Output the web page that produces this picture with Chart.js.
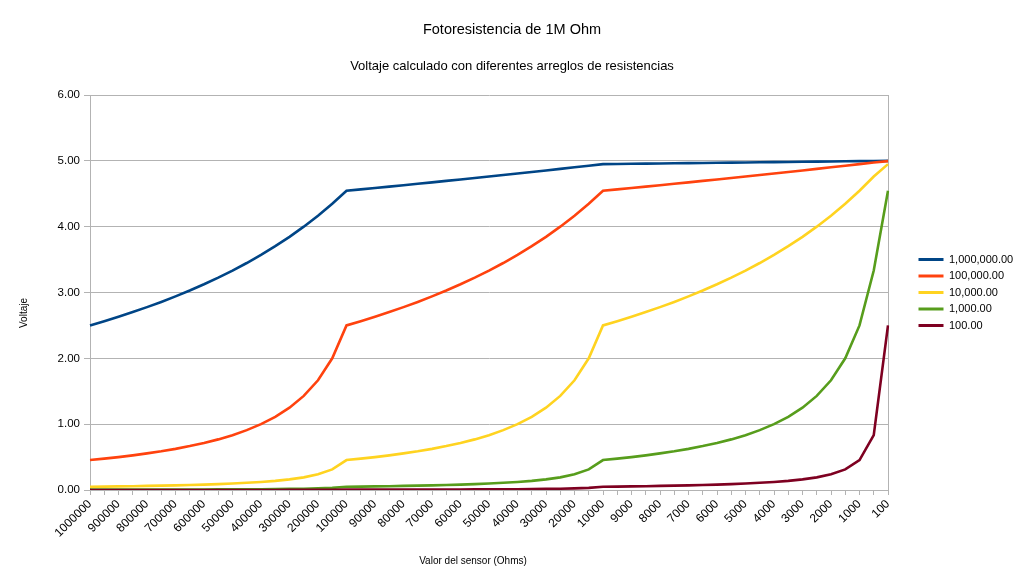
<!DOCTYPE html>
<html>
<head>
<meta charset="utf-8">
<script src="https://cdn.jsdelivr.net/npm/chart.js@4.4.1/dist/chart.umd.min.js"></script>
<style>
  html, body { margin: 0; padding: 0; background: #ffffff; }
  #wrap { width: 1024px; height: 585px; }
</style>
</head>
<body>
<div id="wrap"><canvas id="c" width="1024" height="585"></canvas></div>
<script>
// Sensor resistance (Ohms), category axis
const categories = ['1000000','950000','900000','850000','800000','750000','700000','650000','600000','550000',
  '500000','450000','400000','350000','300000','250000','200000','150000','100000',
  '95000','90000','85000','80000','75000','70000','65000','60000','55000','50000','45000','40000',
  '35000','30000','25000','20000','15000','10000',
  '9500','9000','8500','8000','7500','7000','6500','6000','5500','5000','4500','4000',
  '3500','3000','2500','2000','1500','1000','500','100'];

const seriesNames = ['1,000,000.00', '100,000.00', '10,000.00', '1,000.00', '100.00'];

const v1M = [2.500,2.564,2.632,2.703,2.778,2.857,2.941,3.030,3.125,3.226,3.333,3.448,3.571,3.704,3.846,4.000,4.167,4.348,4.545,
  4.566,4.587,4.608,4.630,4.651,4.673,4.695,4.717,4.739,4.762,4.785,4.808,4.831,4.854,4.878,4.902,4.926,4.950,
  4.953,4.955,4.958,4.960,4.963,4.965,4.968,4.970,4.973,4.975,4.978,4.980,4.983,4.985,4.988,4.990,4.993,4.995,
  4.998,5.000];
const v100k = [0.455,0.476,0.500,0.526,0.556,0.588,0.625,0.667,0.714,0.769,0.833,0.909,1.000,1.111,1.250,1.429,1.667,2.000,2.500,
  2.564,2.632,2.703,2.778,2.857,2.941,3.030,3.125,3.226,3.333,3.448,3.571,3.704,3.846,4.000,4.167,4.348,4.545,
  4.566,4.587,4.608,4.630,4.651,4.673,4.695,4.717,4.739,4.762,4.785,4.808,4.831,4.854,4.878,4.902,4.926,4.950,
  4.975,4.995];
const v10k = [0.050,0.052,0.055,0.058,0.062,0.066,0.070,0.076,0.082,0.089,0.098,0.109,0.122,0.139,0.161,0.192,0.238,0.313,0.455,
  0.476,0.500,0.526,0.556,0.588,0.625,0.667,0.714,0.769,0.833,0.909,1.000,1.111,1.250,1.429,1.667,2.000,2.500,
  2.564,2.632,2.703,2.778,2.857,2.941,3.030,3.125,3.226,3.333,3.448,3.571,3.704,3.846,4.000,4.167,4.348,4.545,
  4.762,4.950];
const v1k = [0.005,0.005,0.006,0.006,0.006,0.007,0.007,0.008,0.008,0.009,0.010,0.011,0.012,0.014,0.017,0.020,0.025,0.033,0.050,
  0.052,0.055,0.058,0.062,0.066,0.070,0.076,0.082,0.089,0.098,0.109,0.122,0.139,0.161,0.192,0.238,0.313,0.455,
  0.476,0.500,0.526,0.556,0.588,0.625,0.667,0.714,0.769,0.833,0.909,1.000,1.111,1.250,1.429,1.667,2.000,2.500,
  3.333,4.545];
const v100 = [0.001,0.001,0.001,0.001,0.001,0.001,0.001,0.001,0.001,0.001,0.001,0.001,0.001,0.001,0.002,0.002,0.002,0.003,0.005,
  0.005,0.006,0.006,0.006,0.007,0.007,0.008,0.008,0.009,0.010,0.011,0.012,0.014,0.017,0.020,0.025,0.033,0.050,
  0.052,0.055,0.058,0.062,0.066,0.070,0.076,0.082,0.089,0.098,0.109,0.122,0.139,0.161,0.192,0.238,0.313,0.455,
  0.833,2.500];

const yTicks = [0, 1, 2, 3, 4, 5, 6];
const colors = ['#004586', '#ff420e', '#ffd320', '#579d1c', '#7e0021'];
const allValues = [v1M, v100k, v10k, v1k, v100];

const FONT = '"Liberation Sans", Arial, sans-serif';
Chart.defaults.font.family = FONT;
Chart.defaults.color = '#000000';

const datasets = allValues.map((vals, i) => ({
  label: seriesNames[i],
  data: vals,
  borderColor: colors[i],
  backgroundColor: colors[i],
  borderWidth: 2.6,
  pointRadius: 0,
  pointHoverRadius: 0,
  tension: 0,
  fill: false,
  order: allValues.length - i
}));

const axisTitles = {
  id: 'axisTitles',
  afterInit(chart) {
    const lg = chart.legend;
    if (lg) {
      const f = lg.fit.bind(lg);
      lg.fit = function () { f(); this.width = 111; };
    }
  },
  afterDraw(chart) {
    const ctx = chart.ctx;
    ctx.save();
    ctx.fillStyle = '#000000';
    ctx.font = '10px ' + FONT;
    ctx.textAlign = 'center';
    ctx.textBaseline = 'middle';
    ctx.fillText('Valor del sensor (Ohms)', 473, 561);
    ctx.translate(24, 313);
    ctx.rotate(-Math.PI / 2);
    ctx.fillText('Voltaje', 0, 0);
    ctx.restore();
  }
};

new Chart(document.getElementById('c'), {
  type: 'line',
  data: { labels: categories, datasets },
  options: {
    responsive: false,
    animation: false,
    layout: { padding: { left: 0, right: 0, top: 0, bottom: 0 } },
    plugins: {
      title: {
        display: true,
        text: 'Fotoresistencia de 1M Ohm',
        font: { size: 14.5, weight: 'normal', family: FONT },
        color: '#000000',
        padding: { top: 21, bottom: 0 }
      },
      subtitle: {
        display: true,
        text: 'Voltaje calculado con diferentes arreglos de resistencias',
        font: { size: 13, weight: 'normal', family: FONT },
        color: '#000000',
        padding: { top: 19.8, bottom: 21.2 }
      },
      legend: {
        position: 'right',
        reverse: true,
        labels: {
          boxWidth: 25,
          boxHeight: 3,
          padding: 5.5,
          font: { size: 11, family: FONT },
          color: '#000000',
          generateLabels(chart) {
            const items = Chart.defaults.plugins.legend.labels.generateLabels(chart);
            items.forEach(it => { it.lineWidth = 0; it.strokeStyle = it.fillStyle; });
            return items;
          }
        }
      },
      tooltip: { enabled: false }
    },
    scales: {
      x: {
        offset: false,
        grid: { drawOnChartArea: false, drawTicks: true, tickLength: 5, tickColor: '#b3b3b3', color: '#b3b3b3' },
        border: { display: true, color: '#b3b3b3' },
        ticks: {
          autoSkip: false,
          maxRotation: 45,
          minRotation: 45,
          padding: 2,
          font: { size: 12, family: FONT },
          color: '#000000',
          callback: function (value, index) { return index % 2 === 0 ? categories[index] : ''; }
        },
        afterFit(s) { s.height = 95; }
      },
      y: {
        min: yTicks[0],
        max: yTicks[yTicks.length - 1],
        afterBuildTicks(s) { s.ticks = yTicks.map(v => ({ value: v })); },
        grid: { color: '#b3b3b3', tickLength: 6, tickColor: '#b3b3b3' },
        border: { display: true, color: '#b3b3b3' },
        ticks: {
          padding: 4,
          font: { size: 11.5, family: FONT },
          color: '#000000',
          callback: v => Number(v).toFixed(2)
        },
        afterFit(s) { s.width = 90; }
      },
      y2: {
        position: 'right',
        display: true,
        grid: { display: false, drawTicks: false },
        border: { display: true, color: '#b3b3b3' },
        ticks: { display: false },
        afterFit(s) { s.width = 25; }
      }
    }
  },
  plugins: [axisTitles]
});
</script>
</body>
</html>
